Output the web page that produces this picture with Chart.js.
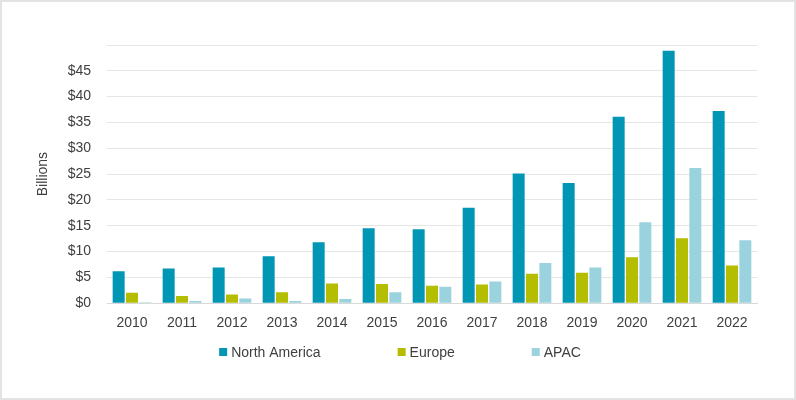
<!DOCTYPE html>
<html>
<head>
<meta charset="utf-8">
<script src="https://cdn.jsdelivr.net/npm/chart.js@4/dist/chart.umd.min.js"></script>
<style>
  html, body { margin: 0; padding: 0; background: #fff; }
  #wrap {
    position: absolute; left: 0; top: 0;
    width: 796px; height: 400px;
    box-sizing: border-box;
    border: 2px solid #e3e3e3;
  }
  #chart { display: block; }
</style>
</head>
<body>
<div id="wrap"><canvas id="chart" width="792" height="396"></canvas></div>
<script>
const years = ['2010', '2011', '2012', '2013', '2014', '2015', '2016', '2017', '2018', '2019', '2020', '2021', '2022'];
const northAmerica = [6.2, 6.7, 6.9, 9.1, 11.8, 14.5, 14.3, 18.5, 25.1, 23.3, 36.1, 48.9, 37.2];
const europe = [2.0, 1.4, 1.7, 2.1, 3.8, 3.7, 3.4, 3.6, 5.7, 5.9, 8.9, 12.6, 7.3];
const apac = [0.2, 0.45, 0.9, 0.45, 0.8, 2.1, 3.2, 4.2, 7.8, 6.9, 15.7, 26.2, 12.2];
const yTicks = [0, 5, 10, 15, 20, 25, 30, 35, 40, 45];

const textColor = '#404040';
const fontFamily = 'Arial, "Liberation Sans", sans-serif';

// legend drawn by hand so the spacing matches the original
const legendPlugin = {
    id: 'bottomLegend',
    afterDraw(chart) {
        const ctx = chart.ctx;
        const box = 8, gapText = 4, gapItem = 77;
        ctx.save();
        ctx.font = '14px ' + fontFamily;
        ctx.textBaseline = 'middle';
        const items = chart.data.datasets.map(ds => ({
            text: ds.label,
            color: ds.backgroundColor,
            w: box + gapText + ctx.measureText(ds.label).width
        }));
        const total = items.reduce((s, it) => s + it.w, 0) + gapItem * (items.length - 1);
        let x = (chart.width - total) / 2 + 2;
        const y = 350;
        items.forEach(it => {
            ctx.fillStyle = it.color;
            ctx.fillRect(x, y - box / 2, box, box);
            ctx.fillStyle = textColor;
            ctx.fillText(it.text, x + box + gapText, y + 1);
            x += it.w + gapItem;
        });
        ctx.restore();
    }
};

new Chart(document.getElementById('chart'), {
    type: 'bar',
    data: {
        labels: years,
        datasets: [
            { label: 'North America', data: northAmerica, backgroundColor: '#0096B4' },
            { label: 'Europe', data: europe, backgroundColor: '#B5BD00' },
            { label: 'APAC', data: apac, backgroundColor: '#9AD3DE' }
        ]
    },
    options: {
        responsive: false,
        animation: false,
        layout: { padding: { left: 29, right: 37, top: 43, bottom: 62 } },
        datasets: {
            bar: { categoryPercentage: 0.8, barPercentage: 0.9 }
        },
        plugins: {
            legend: { display: false },
            tooltip: { enabled: false }
        },
        scales: {
            x: {
                grid: { display: false },
                border: { color: '#d9d9d9' },
                ticks: { color: textColor, padding: 4, font: { size: 14, family: fontFamily } }
            },
            y: {
                min: 0,
                max: 50,
                afterBuildTicks(scale) {
                    scale.ticks = yTicks.concat([50]).map(v => ({ value: v }));
                },
                afterFit(scale) { scale.width = 76; },
                grid: { color: '#e6e6e6', drawTicks: false },
                border: { display: false },
                ticks: {
                    color: textColor,
                    padding: 16,
                    font: { size: 14, family: fontFamily },
                    callback: v => (v === 50 ? '' : '$' + v)
                },
                title: {
                    display: true,
                    text: 'Billions',
                    color: textColor,
                    font: { size: 14, family: fontFamily },
                    padding: { top: 4, bottom: 4 }
                }
            }
        }
    },
    plugins: [legendPlugin]
});
</script>
</body>
</html>
